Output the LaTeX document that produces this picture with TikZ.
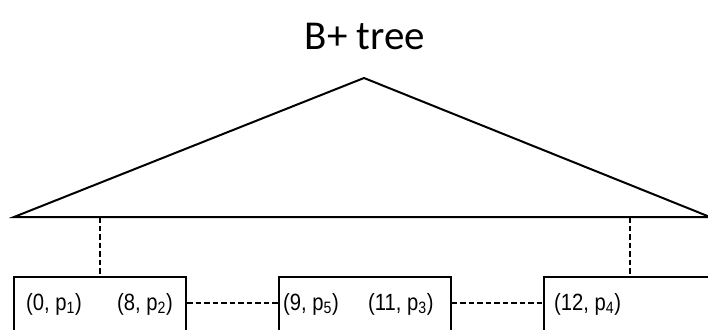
\documentclass[tikz,border=0pt]{standalone}
\usepackage{fontspec}
\setmainfont{Liberation Sans}
\newfontfamily\titlefont{Carlito}
\newfontfamily\leaffont[FakeStretch=0.86]{Liberation Sans}
\tikzset{
    leaf/.style={draw, line width=2pt, rectangle, minimum width=172pt, minimum height=80pt, inner sep=0pt},
    entry/.style={anchor=base west, inner sep=0pt, font=\leaffont\fontsize{23.5}{27}\selectfont},
    link/.style={line width=2pt, dash pattern=on 5.5pt off 3pt}
}
\begin{document}
\begin{tikzpicture}[x=1pt, y=-1pt]
\useasboundingbox (0,0) rectangle (708,329);
\clip (0,0) rectangle (708,329);

\node[font=\titlefont\fontsize{41}{48}\selectfont] (title) at (365,36) {B+ tree};

% the tree itself
\coordinate (top) at (364,78);
\coordinate (bl) at (14,217);
\coordinate (br) at (710,217);
\draw[line width=2pt, line join=miter] (bl)--(top)--(br)--cycle;

% leaf pages
\node[leaf] (leaf1) at (100,317) {};
\node[leaf] (leaf2) at (364.5,317) {};
\node[leaf] (leaf3) at (630,317) {};

\node[entry] (k0) at (26,310) {(0, p\textsubscript{1})};
\node[entry] (k8) at (117,310) {(8, p\textsubscript{2})};
\node[entry] (k9) at (283,310) {(9, p\textsubscript{5})};
\node[entry] (k11) at (368,310) {(11, p\textsubscript{3})};
\node[entry] (k12) at (554,310) {(12, p\textsubscript{4})};

\draw[link] (leaf1.north |- bl) -- (leaf1.north);
\draw[link] (leaf3.north |- bl) -- (leaf3.north);
\draw[link] ([yshift=14pt]leaf1.east) -- ([yshift=14pt]leaf2.west);
\draw[link] ([yshift=14pt]leaf2.east) -- ([yshift=14pt]leaf3.west);
\end{tikzpicture}
\end{document}
